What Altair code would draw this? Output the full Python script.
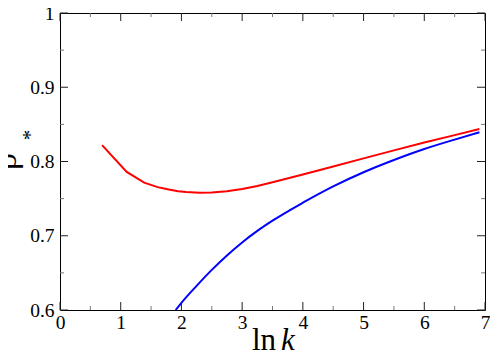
import altair as alt
import pandas as pd

# ---- data ----
red_x = [0.693, 1.099, 1.386, 1.609, 1.792, 1.946, 2.079, 2.303, 2.5, 2.75, 3.0, 3.25, 3.5,
         4.0, 4.5, 5.0, 5.5, 6.0, 6.5, 6.908]
red_y = [0.822, 0.786, 0.7715, 0.7655, 0.7622, 0.7600, 0.7588, 0.7580, 0.7582, 0.7600, 0.7630,
         0.7670, 0.7720, 0.7825, 0.7932, 0.8042, 0.8150, 0.8255, 0.8355, 0.8437]

blue_x = [1.905, 2.0, 2.25, 2.5, 2.75, 3.0, 3.25, 3.5, 4.0, 4.5, 5.0, 5.5, 6.0, 6.5, 6.908]
blue_y = [0.600, 0.6097, 0.6325, 0.654, 0.6735, 0.6910, 0.7065, 0.7203, 0.7445, 0.7665, 0.7855,
          0.8020, 0.8168, 0.8295, 0.8393]

x_major = [0, 1, 2, 3, 4, 5, 6, 7]
x_minor = [0.5, 1.5, 2.5, 3.5, 4.5, 5.5, 6.5]
y_major = [0.6, 0.7, 0.8, 0.9, 1.0]
y_minor = [0.65, 0.75, 0.85, 0.95]

x_title_main = ["ln"]
x_title_var = ["k"]
y_title_main = ["ρ"]
y_title_sub = ["*"]

# ---- layout ----
W, H = 425, 297
PAD = {"left": 52, "top": 5, "right": 5, "bottom": 46}
FONT = "Liberation Serif"
MAJ, MIN = 8, 4

xs = alt.Scale(domain=[0, 7], nice=False, zero=False)
ys = alt.Scale(domain=[0.6, 1.0], nice=False, zero=False)

ax_common = dict(ticks=False, tickSize=0, domain=False, grid=False, title=None,
                 labelFont=FONT, labelFontSize=19.5, labelColor="black",
                 labelOverlap=False, labelFlush=False)
x_axis = alt.Axis(values=x_major, format="d", labelPadding=3, **ax_common)
y_axis = alt.Axis(values=y_major, format=".1~f", labelPadding=6, **ax_common)


def curve(xv, yv, color, interp):
    df = pd.DataFrame({"x": xv, "y": yv, "i": list(range(len(xv)))})
    return alt.Chart(df).mark_line(strokeWidth=2, clip=True, color=color,
                                   interpolate=interp).encode(
        x=alt.X("x:Q", scale=xs, axis=x_axis),
        y=alt.Y("y:Q", scale=ys, axis=y_axis),
        order=alt.Order("i:Q"),
    )


red_line = curve(red_x, red_y, "#ff0000", "linear")
blue_line = curve(blue_x, blue_y, "#0000ff", "monotone")


def xticks(vals, length, color):
    df = pd.DataFrame({"x": vals})
    bottom = alt.Chart(df).mark_rule(color=color, strokeWidth=1).encode(
        x=alt.X("x:Q", scale=xs, axis=x_axis), y=alt.value(H), y2=alt.value(H - length))
    top = alt.Chart(df).mark_rule(color=color, strokeWidth=1).encode(
        x=alt.X("x:Q", scale=xs, axis=x_axis), y=alt.value(0), y2=alt.value(length))
    return [bottom, top]


def yticks(vals, length, color):
    df = pd.DataFrame({"y": vals})
    left = alt.Chart(df).mark_rule(color=color, strokeWidth=1).encode(
        y=alt.Y("y:Q", scale=ys, axis=y_axis), x=alt.value(0), x2=alt.value(length))
    right = alt.Chart(df).mark_rule(color=color, strokeWidth=1).encode(
        y=alt.Y("y:Q", scale=ys, axis=y_axis), x=alt.value(W), x2=alt.value(W - length))
    return [left, right]


tick_layers = (xticks(x_major, MAJ, "#222222") + xticks(x_minor, MIN, "#777777")
               + yticks(y_major, MAJ, "#222222") + yticks(y_minor, MIN, "#777777"))

t_ln = alt.Chart(pd.DataFrame({"t": x_title_main})).mark_text(
    font=FONT, fontSize=31, align="right", baseline="alphabetic", color="black"
).encode(text="t:N", x=alt.value(216), y=alt.value(337))
t_k = alt.Chart(pd.DataFrame({"t": x_title_var})).mark_text(
    font=FONT, fontSize=31, fontStyle="italic", align="left", baseline="alphabetic", color="black"
).encode(text="t:N", x=alt.value(221), y=alt.value(337))
t_rho = alt.Chart(pd.DataFrame({"t": y_title_main})).mark_text(
    font=FONT, fontSize=34, angle=270, align="center", baseline="alphabetic", color="black"
).encode(text="t:N", x=alt.value(-44), y=alt.value(148.5))
t_star = alt.Chart(pd.DataFrame({"t": y_title_sub})).mark_text(
    font=FONT, fontSize=21, angle=270, align="center", baseline="middle", color="black"
).encode(text="t:N", x=alt.value(-29), y=alt.value(122))

chart = alt.layer(red_line, blue_line, *tick_layers, t_ln, t_k, t_rho, t_star).properties(
    width=W, height=H,
    padding=PAD,
    autosize=alt.AutoSizeParams(type="none"),
    background="white",
).configure_view(stroke="black", strokeWidth=1)

chart.save("out.html", embed_options={"renderer": "svg", "actions": False})
